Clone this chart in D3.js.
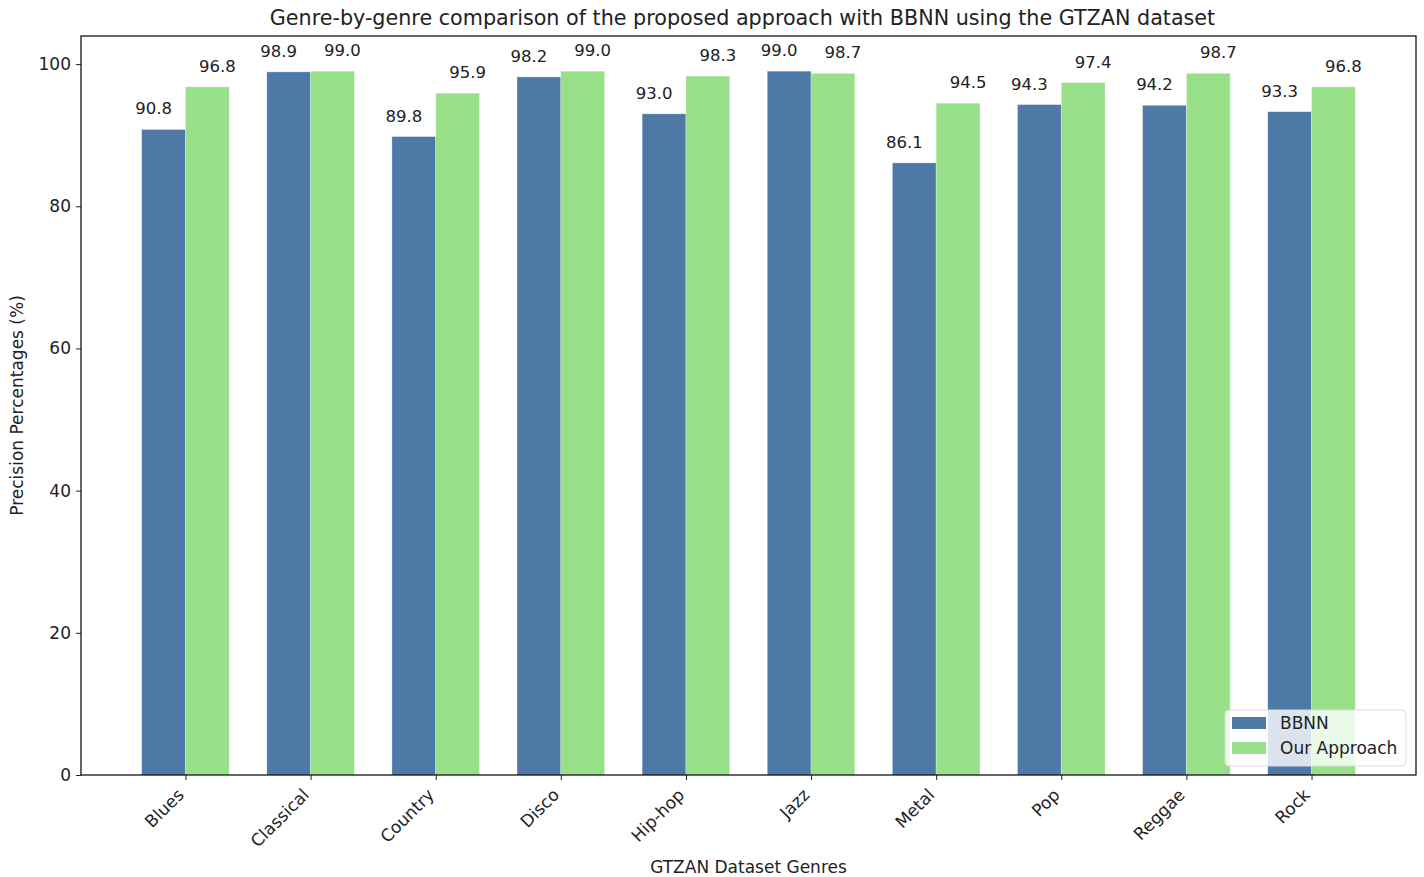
<!DOCTYPE html>
<html><head><meta charset="utf-8">
<script src="https://cdn.jsdelivr.net/npm/d3@7"></script>
<style>body{margin:0;background:#fff}svg{display:block}text{font-family:"DejaVu Sans",sans-serif;fill:#222}</style>
</head><body><svg id="c" width="1424" height="877"></svg>
<script>
const genres = ["Blues","Classical","Country","Disco","Hip-hop","Jazz","Metal","Pop","Reggae","Rock"];
const bbnn = [90.8,98.9,89.8,98.2,93.0,99.0,86.1,94.3,94.2,93.3];
const ours = [96.8,99.0,95.9,99.0,98.3,98.7,94.5,97.4,98.7,96.8];
const seriesNames = ["BBNN","Our Approach"];
const yTicks = [0,20,40,60,80,100];
const colors = ["#4e79a7","#98df8a"];

const svg = d3.select("#c");
const L=81, R=1416, T=36, B=775;
const bw = 0.35;
const x = d3.scaleLinear().domain([-0.835, 9.835]).range([L,R]);
const y = d3.scaleLinear().domain([0, 103.95]).range([B,T]);
const FS = 17;

const series=[bbnn,ours];
series.forEach((vals,si)=>{
  const g=svg.append("g");
  g.selectAll("rect").data(vals).join("rect")
    .attr("x",(d,i)=>x(i+(si-1)*bw))
    .attr("width",x(bw)-x(0))
    .attr("y",d=>y(d)).attr("height",d=>y(0)-y(d))
    .attr("fill",colors[si]).attr("stroke","rgba(255,255,255,0.35)").attr("stroke-width",0.8);
  g.selectAll("text").data(vals).join("text")
    .attr("x",(d,i)=>x(i+(si-0.5)*bw)+(si===0?-10:10))
    .attr("y",d=>y(d)-15)
    .attr("text-anchor","middle").attr("font-size",16.5)
    .text(d=>d.toFixed(1));
});

// axes
const yAxis = d3.axisLeft(y).tickValues(yTicks).tickSize(5).tickPadding(5).tickFormat(d3.format("d"));
const ya=svg.append("g").attr("transform",`translate(${L},0)`).call(yAxis);
ya.select(".domain").remove();
ya.selectAll("text").attr("font-size",FS).style("font-family","DejaVu Sans").attr("fill","#222");
ya.selectAll("line").attr("stroke","#222");

const xa=svg.append("g").attr("transform",`translate(0,${B})`)
  .call(d3.axisBottom(x).tickValues(d3.range(genres.length)).tickSize(5).tickFormat(i=>genres[i]));
xa.select(".domain").remove();
xa.selectAll("line").attr("stroke","#222");
xa.selectAll("text").attr("font-size",FS).style("font-family","DejaVu Sans").attr("fill","#222")
  .attr("text-anchor","end").attr("dy",null).attr("y",null)
  .attr("transform","translate(-1,21) rotate(-45)");

svg.append("rect").attr("x",L).attr("y",T).attr("width",R-L).attr("height",B-T)
  .attr("fill","none").attr("stroke","#000").attr("stroke-width",1.2);

svg.append("text").attr("x",(L+R)/2-6).attr("y",25).attr("text-anchor","middle").attr("font-size",20.7)
  .text("Genre-by-genre comparison of the proposed approach with BBNN using the GTZAN dataset");
svg.append("text").attr("x",(L+R)/2).attr("y",873).attr("text-anchor","middle").attr("font-size",FS)
  .text("GTZAN Dataset Genres");
svg.append("text").attr("transform",`translate(23,${(T+B)/2}) rotate(-90)`).attr("text-anchor","middle").attr("font-size",FS)
  .text("Precision Percentages (%)");

// legend
const lg=svg.append("g").attr("transform","translate(1225,710)");
lg.append("rect").attr("width",181).attr("height",56).attr("rx",4).attr("fill","rgba(255,255,255,0.8)").attr("stroke","#ddd");
seriesNames.forEach((n,i)=>{
  lg.append("rect").attr("x",7).attr("y",7+i*25).attr("width",34).attr("height",12).attr("fill",colors[i]);
  lg.append("text").attr("x",55).attr("y",19+i*25).attr("font-size",FS).text(n);
});
</script></body></html>
